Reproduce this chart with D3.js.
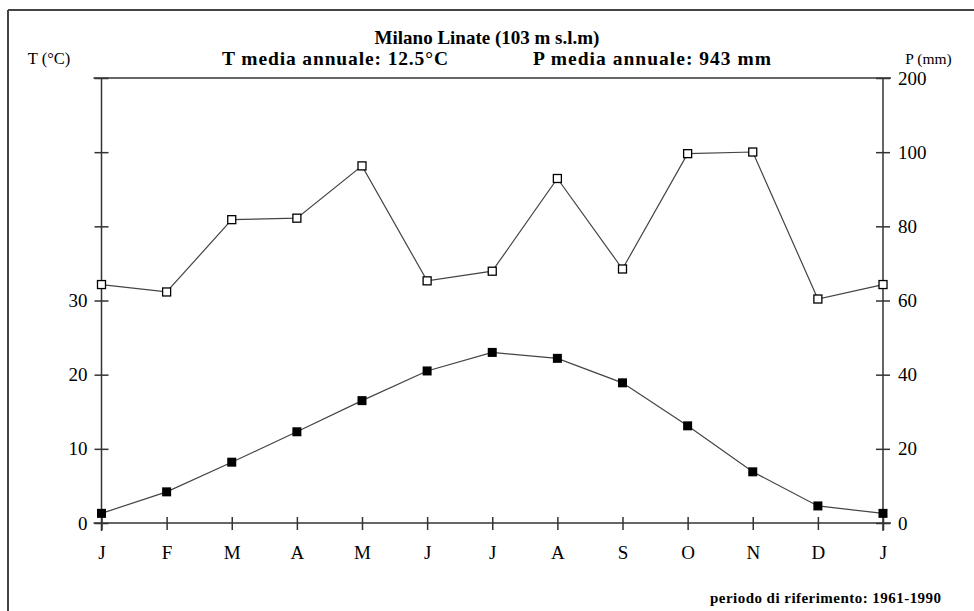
<!DOCTYPE html>
<html>
<head>
<meta charset="utf-8">
<script src="https://cdn.jsdelivr.net/npm/d3@7"></script>
<style>
  html, body { margin: 0; padding: 0; background: #fff; }
  svg { display: block; }
  text { font-family: "Liberation Serif", "Times New Roman", serif; fill: #000; }
</style>
</head>
<body>
<svg id="chart" width="974" height="611"></svg>
<script>
const months = ["J","F","M","A","M","J","J","A","S","O","N","D","J"];
const temperature = [1.3, 4.2, 8.2, 12.3, 16.5, 20.5, 23.0, 22.2, 18.9, 13.1, 6.9, 2.3, 1.3];
const precipitation = [64.3, 62.3, 81.8, 82.2, 96.3, 65.3, 67.9, 92.9, 68.5, 99.6, 100.2, 60.4, 64.3];
const tempTicks = [0, 10, 20, 30, 40, 50, 60];
const tempTickLabels = ["0", "10", "20", "30", "", "", ""];
const precTicks = [0, 20, 40, 60, 80, 100, 200];
const title = "Milano Linate (103 m s.l.m)";
const tMeanText = "T media annuale: 12.5°C";
const pMeanText = "P media annuale: 943 mm";
const footnote = "periodo di riferimento: 1961-1990";

const svg = d3.select("#chart");
const mLeft = 101.5, mRight = 883, mTop = 78, mBottom = 523;

const x = d3.scalePoint().domain(d3.range(months.length)).range([mLeft, mRight]);
const yT = d3.scaleLinear().domain([0, 60]).range([mBottom, mTop]);
const yP = d3.scaleLinear().domain([0, 100, 200]).range([mBottom, yT(50), mTop]);

// outer frame
svg.append("line").attr("x1", 8).attr("x2", 974).attr("y1", 10).attr("y2", 10)
  .attr("stroke", "#444").attr("stroke-width", 2);
svg.append("line").attr("x1", 8).attr("x2", 8).attr("y1", 10).attr("y2", 611)
  .attr("stroke", "#444").attr("stroke-width", 2);

// titles
svg.append("text").attr("x", 487).attr("y", 44).attr("text-anchor", "middle")
  .attr("font-size", 19).attr("font-weight", "bold").text(title);
svg.append("text").attr("x", 335).attr("y", 65).attr("text-anchor", "middle")
  .attr("font-size", 19.5).attr("font-weight", "bold")
  .attr("textLength", 226).attr("lengthAdjust", "spacing").text(tMeanText);
svg.append("text").attr("x", 652).attr("y", 65).attr("text-anchor", "middle")
  .attr("font-size", 19.5).attr("font-weight", "bold")
  .attr("textLength", 238).attr("lengthAdjust", "spacing").text(pMeanText);
svg.append("text").attr("x", 49).attr("y", 64).attr("text-anchor", "middle")
  .attr("font-size", 16.5).text("T (°C)");
svg.append("text").attr("x", 928.5).attr("y", 64).attr("text-anchor", "middle")
  .attr("font-size", 15.5).text("P (mm)");

const axisStroke = "#333";
const g = svg.append("g");

// top horizontal line
g.append("line").attr("x1", mLeft - 8).attr("x2", mRight + 8).attr("y1", mTop).attr("y2", mTop)
  .attr("stroke", axisStroke).attr("stroke-width", 1.5);

// left axis
const leftAxis = d3.axisLeft(yT).tickValues(tempTicks)
  .tickFormat((d, i) => tempTickLabels[i]).tickSizeOuter(0).tickSizeInner(7).tickPadding(7);
const la = g.append("g").attr("transform", `translate(${mLeft},0)`).call(leftAxis);
la.select(".domain").remove();
la.selectAll(".tick line").attr("x2", -7).attr("x1", 7);
la.append("line").attr("x1", 0).attr("x2", 0).attr("y1", mTop).attr("y2", mBottom + 8);

// right axis
const rightAxis = d3.axisRight(yP).tickValues(precTicks)
  .tickFormat(d3.format("d")).tickSizeOuter(0).tickSizeInner(7).tickPadding(8);
const ra = g.append("g").attr("transform", `translate(${mRight},0)`).call(rightAxis);
ra.select(".domain").remove();
ra.selectAll(".tick line").attr("x1", -7).attr("x2", 7);
ra.append("line").attr("x1", 0).attr("x2", 0).attr("y1", mTop).attr("y2", mBottom + 8);

// bottom axis
const bottomAxis = d3.axisBottom(x).tickFormat(i => months[i])
  .tickSizeOuter(0).tickSizeInner(7).tickPadding(16);
const ba = g.append("g").attr("transform", `translate(0,${mBottom})`).call(bottomAxis);
ba.select(".domain").remove();
ba.selectAll(".tick line").attr("y1", -6).attr("y2", 7);
ba.append("line").attr("x1", mLeft - 8).attr("x2", mRight + 8).attr("y1", 0).attr("y2", 0);

[la, ra, ba].forEach(a => {
  a.selectAll("line").attr("stroke", axisStroke).attr("stroke-width", 1.5);
  a.selectAll("text").attr("font-family", '"Liberation Serif", serif').attr("font-size", 19).attr("fill", "#000");
});

// precipitation line
const lineP = d3.line().x((d, i) => x(i)).y(d => yP(d));
svg.append("path").datum(precipitation).attr("d", lineP)
  .attr("fill", "none").attr("stroke", "#444").attr("stroke-width", 1.2);
svg.selectAll(".pm").data(precipitation).enter().append("rect")
  .attr("x", (d, i) => x(i) - 4).attr("y", d => yP(d) - 4)
  .attr("width", 8).attr("height", 8)
  .attr("fill", "#fff").attr("stroke", "#000").attr("stroke-width", 1.3);

// temperature line
const lineT = d3.line().x((d, i) => x(i)).y(d => yT(d));
svg.append("path").datum(temperature).attr("d", lineT)
  .attr("fill", "none").attr("stroke", "#444").attr("stroke-width", 1.2);
svg.selectAll(".tm").data(temperature).enter().append("rect")
  .attr("x", (d, i) => x(i) - 4.5).attr("y", d => yT(d) - 4.5)
  .attr("width", 9).attr("height", 9)
  .attr("fill", "#000");

// footnote
svg.append("text").attr("x", 941).attr("y", 603).attr("text-anchor", "end")
  .attr("font-size", 15).attr("font-weight", "bold")
  .attr("textLength", 231).attr("lengthAdjust", "spacing").text(footnote);
</script>
</body>
</html>
